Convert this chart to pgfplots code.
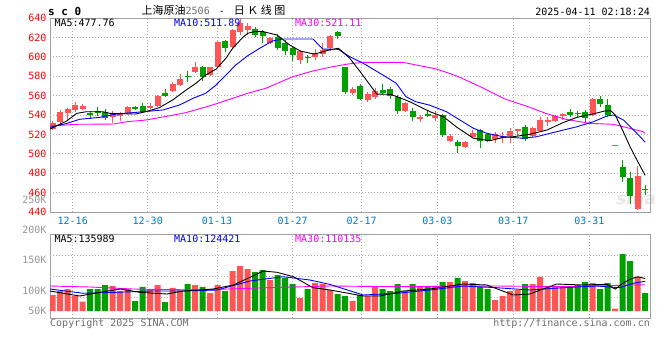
\documentclass[border=0pt]{standalone}
\usepackage{pgfplots}
\pgfplotsset{compat=1.18}
\usepackage{pgfplotstable}
\usepackage{fontspec}
\setmainfont{DejaVu Sans}
\setsansfont{DejaVu Sans}
\setmonofont{DejaVu Sans Mono}
\newfontfamily\cjk{Noto Sans CJK SC}
\definecolor{cred}{RGB}{255,85,85}
\definecolor{cgreen}{RGB}{0,160,0}
\definecolor{cblue}{RGB}{0,0,255}
\definecolor{cmag}{RGB}{255,0,255}
\definecolor{cdate}{RGB}{0,120,200}
\definecolor{cframe}{RGB}{160,160,160}
\definecolor{cgrid}{RGB}{175,175,175}
\definecolor{clab}{RGB}{150,150,150}
\definecolor{ctxt}{RGB}{110,110,110}

\pgfplotstableread{
i o h l c v
0 526 534 525 532 67000
1 533 545 530 543 83800
2 542 547 535 546 92200
3 545 553 543 550 62900
4 546 551 545 549 39000
8 538 544 532 542 104800
9 538.5 543 534 541 83800
10 542 549.5 541 548 92200
13 548 552 546 549 92200
14 549.5 561 548.5 559.5 108900
16 565 574.5 564 572 96400
17 571 582 570 577 86700
19 584 595 583 590 108900
21 581 590 580 589 75400
22 590 616 588 615 108900
24 610.5 629 609 627.5 167600
25 626 639.5 623 634.5 188600
26 628 634.5 623 632 176000
29 614.5 620.5 613 619 129900
33 597 607 592.5 606 54500
35 599.5 608 597 604 117300
36 603 614 600 607.5 113100
37 609 622 606 621 88000
40 563 569 561 567 41900
42 555.5 564 553.5 562 62900
43 559 568 557 565 100600
47 544.5 553 543.5 552 83800
49 536 539.5 532.5 538 104800
51 536.5 544 534 539.5 104800
53 513 520 512 518 121500
55 507.5 513.5 506 512.5 125700
56 517.5 525 516 521 117300
59 515 522 511 520 46100
60 516.5 522 511 518 62900
61 518 527 511 523 83800
62 523.5 526 518 525.5 88000
64 518.5 528 517 527 113100
65 524 538 523 535 142500
66 532.5 537.5 528.5 534.5 104800
67 534 540.5 532.5 539 104800
68 539.5 542.5 535 541 104800
72 540 557.5 539 556 117300
75 509 509 509 509 9600
78 443 487.5 442 477 142500
}\uptab

\pgfplotstableread{
i o h l c v
5 542 544 536 540 92200
6 544 548 539 543 92200
7 543 546 535 537 108900
11 548.5 549 545 546 41900
12 549 552 543 543.5 100600
15 563 566.5 559 560 37700
18 580.5 585.5 574.5 579.5 113100
20 590 590.5 575.5 579 100600
23 616 617.5 605 609 83800
27 628.5 631 620 622.5 163400
28 626 628 614.5 621 171800
30 620 624 607 609 150800
31 614.5 617 602 605.5 138300
32 609 610.5 596 602 113100
34 600 602 594 599 92200
38 626 627 618 621 71200
39 589 590 562 564 62900
41 570 571.5 555.5 556.5 67000
44 566 571.5 561 563 92200
45 567 568.5 557 560 83800
46 559 561 541.5 544 113100
48 544 547 534 538 113100
50 541 545.5 537.5 539 104800
52 540 541 517 519.5 121500
54 512.5 514 501 508.5 138300
57 524.5 526 506.5 513 100600
58 520 521 512.5 513.5 92200
63 528 530 513.5 515 113100
69 543.5 546 538 539.5 100600
70 542 544.5 537.5 541.5 108900
71 543.5 545 533 537 121500
73 556 559.5 548.5 551 92200
74 550.5 556 538 540 117300
76 486 494 471 476.5 238800
77 475.5 481 448 456 209500
79 464 468 458 463 75400
}\downtab

\pgfplotsset{
  sinaaxis/.style={
    scale only axis, width=600pt,
    xmin=-0.36, xmax=79.64,
    axis line style={draw=cframe, line width=1pt},
    major tick length=0pt,
    xtick={2.67,12.67,21.91,32.0,41.2,51.28,61.41,71.55},
    xmajorgrids,
    grid style={draw=cgrid, line width=0.8pt, dash pattern=on 1pt off 2pt},
    tick label style={font=\ttfamily\fontsize{10}{12}\selectfont},
  },
  wick/.style={draw=none, mark=none, forget plot,
    error bars/.cd, y dir=both, y explicit, error mark=none,
    error bar style={draw=#1, line width=1pt}},
  body/.style={draw=none, mark=none, forget plot,
    error bars/.cd, y dir=both, y explicit, error mark=none,
    error bar style={draw=#1, line width=6pt}},
}

\begin{document}
\begin{tikzpicture}
\useasboundingbox (0pt,0pt) rectangle (660pt,360pt);
\node[font=\sffamily\bfseries\itshape\fontsize{17}{17}\selectfont, text=black!9] at (636pt,162pt) {sina};

% header
\node[anchor=west, inner sep=0pt, font=\ttfamily\bfseries\fontsize{11}{11}\selectfont] at (48pt,348.5pt) {s c 0};
\node[anchor=west, inner sep=0pt] at (141.5pt,350pt) {\cjk\fontsize{11}{11}\selectfont 上海原油{\ttfamily\fontsize{10}{10}\selectfont\color{ctxt}2506}{\ttfamily\fontsize{10}{10}\selectfont~\hspace{3pt}-\hspace{3pt}~}日\hspace{2.5pt}Ｋ\hspace{2.5pt}线\hspace{2.5pt}图};
\node[anchor=east, inner sep=0pt, font=\ttfamily\fontsize{10}{10}\selectfont] at (650pt,348.3pt) {2025-04-11 02:18:24};

% price pane
\begin{axis}[sinaaxis, at={(50pt,148pt)}, anchor=south west, height=194pt,
  ymin=440, ymax=640,
  ytick={440,460,480,500,520,540,560,580,600,620,640},
  yticklabels={440,460,480,500,520,540,560,580,600,620,640},
  ymajorgrids,
  yticklabel style={text=red},
  xticklabels={12-16,12-30,01-13,01-27,02-17,03-03,03-17,03-31},
  xticklabel style={text=cdate, yshift=-2pt},
]
\addplot[wick=cred] table[x=i, y expr={(\thisrow{h}+\thisrow{l})/2}, y error expr={(\thisrow{h}-\thisrow{l})/2}] {\uptab};
\addplot[wick=cgreen] table[x=i, y expr={(\thisrow{h}+\thisrow{l})/2}, y error expr={(\thisrow{h}-\thisrow{l})/2}] {\downtab};
\addplot[body=cred] table[x=i, y expr={(\thisrow{o}+\thisrow{c})/2}, y error expr={max(abs(\thisrow{c}-\thisrow{o})/2,0.5)}] {\uptab};
\addplot[body=cgreen] table[x=i, y expr={(\thisrow{o}+\thisrow{c})/2}, y error expr={max(abs(\thisrow{c}-\thisrow{o})/2,0.5)}] {\downtab};
% MA30
\addplot[cmag, line width=0.9pt, mark=none] coordinates {
(-0.36,528.7) (3.2,530.4) (8.1,530.7) (9.9,533.1) (12.4,534.8) (15.1,538.5) (17.8,542.5) (21.3,550.3) (24,557.2) (26,562.4) (28.4,567.5) (32,579.5) (34.7,585.4) (37.3,589.8) (39.4,592.6) (41.4,594.3) (46.7,594.3) (51.2,587.4) (53.9,580.2) (57,569.2) (60.3,556.5) (63.6,548) (65.8,541.5) (68.4,535.6) (71.6,531.4) (74.7,530.4) (76.4,527.3) (78.7,522.8) (79,521.11)};
% MA10
\addplot[cblue, line width=0.9pt, mark=none] coordinates {
(-0.36,527.3) (1.9,531.4) (3.6,535.6) (6.3,537.6) (8.5,541) (12.1,543.4) (14.7,545.2) (16.9,550.3) (18.7,557.2) (20.4,562.4) (21.8,571) (23.1,581.2) (24.4,591.5) (26,601.1) (27.6,608.8) (29.3,616.3) (30.7,618.4) (34.7,618.4) (36,608) (38.1,607.7) (39.6,600.1) (41.4,593.3) (44.4,579.5) (45.8,572.7) (47.1,558.9) (48.4,553.7) (50.2,550.3) (52.5,543.4) (54.3,534.8) (56.1,526.3) (57.9,521.1) (60.1,517.6) (62.7,516) (64.5,517.6) (67.2,522.8) (69.9,527.9) (72.1,533.1) (73.9,539) (74.8,540) (76.1,534.8) (77.9,521.1) (79,511.89)};
% MA5
\addplot[black, line width=0.9pt, mark=none] coordinates {
(-0.36,525.6) (1.9,534) (3.2,541.7) (4.5,543.4) (6.7,543.4) (7.6,541.7) (11,541) (12.4,543.4) (14.2,547.5) (16,555.5) (17.8,565.8) (19.1,572.7) (20.4,581.2) (21.8,587.4) (23.1,598.5) (24,608.8) (25.3,619.7) (26,624.2) (26.8,625.9) (28.1,625.9) (29.9,622.5) (31.6,612.2) (33,606) (34.8,602.9) (35.6,604.2) (37,607.3) (38.1,608.8) (39.6,598.5) (41,584.6) (42.3,571) (43.2,561.6) (45,561.3) (45.9,558.9) (47.6,553.7) (50.3,543.4) (52.1,538.2) (53.9,527.3) (56.1,516) (58.3,513.5) (60.1,517) (61.4,517.6) (63.6,520.1) (65.9,524.5) (68,532) (69.9,537.6) (72,541) (73.6,544.1) (74.4,544.5) (75,540) (76,524) (77,507) (78,492) (79,477.76)};
\end{axis}

\node[anchor=west, inner sep=0pt, font=\ttfamily\fontsize{10}{10}\selectfont] at (54.3pt,336.7pt) {MA5:477.76};
\node[anchor=west, inner sep=0pt, font=\ttfamily\fontsize{10}{10}\selectfont, text=cblue] at (174pt,336.7pt) {MA10:511.89};
\node[anchor=west, inner sep=0pt, font=\ttfamily\fontsize{10}{10}\selectfont, text=cmag] at (295pt,336.7pt) {MA30:521.11};

% volume pane
\begin{axis}[sinaaxis, at={(50pt,42pt)}, anchor=south west, height=84pt,
  ymin=-29330, ymax=322630,
  scaled y ticks=false,
  ytick={0,83800,213700},
  yticklabels={50K,100K,150K},
  yticklabel style={text=clab},
  extra y ticks={58700,146700,234600},
  extra y tick labels={},
  extra y tick style={grid=major},
  xticklabels={},
]
\addplot[ybar, bar width=6pt, bar shift=0pt, fill=cred, draw=none] table[x=i, y=v] {\uptab};
\addplot[ybar, bar width=6pt, bar shift=0pt, fill=cgreen, draw=none] table[x=i, y=v] {\downtab};
\addplot[cmag, line width=0.9pt, mark=none] coordinates {
(-0.36,104750) (5,100560) (10.7,92180) (19.6,87990) (28.5,97630) (37,104750) (45.9,101820) (59.2,104750) (68.1,101820) (79,110135)};
\addplot[cblue, line width=0.9pt, mark=none] coordinates {
(-0.36,92200) (4.1,74160) (8.5,78350) (13,83800) (17.4,83800) (21.9,87990) (26.3,125700) (30.7,143720) (34.3,129890) (37,111000) (41.4,67040) (45.9,74160) (50.3,87990) (54.7,104750) (59.2,97630) (63.6,87990) (68.1,97630) (72.5,104750) (75.6,97630) (77.4,116060) (79,124421)};
\addplot[black, line width=0.9pt, mark=none] coordinates {
(-0.36,83800) (3.6,62850) (6.3,78350) (9,92200) (11.6,78350) (15.2,71230) (17.4,83800) (21.4,92200) (24.1,108940) (28.1,167600) (29.9,162150) (32.1,143720) (34.7,97630) (37,88000) (41.4,62850) (43.6,62850) (46.7,83800) (50.3,92200) (54.7,113130) (57.9,108940) (61.4,67040) (63.6,71230) (67.2,113130) (70.7,108940) (73.9,111870) (75,91600) (76,115900) (77,133500) (78,143500) (79,135989)};
\end{axis}

\node[anchor=east, inner sep=0pt, font=\ttfamily\fontsize{10}{10}\selectfont, text=clab] at (46.7pt,130pt) {200K};
\node[anchor=east, inner sep=0pt, font=\ttfamily\fontsize{10}{10}\selectfont, text=clab] at (46.7pt,160pt) {250K};
\node[anchor=west, inner sep=0pt, font=\ttfamily\fontsize{10}{10}\selectfont] at (54.3pt,121pt) {MA5:135989};
\node[anchor=west, inner sep=0pt, font=\ttfamily\fontsize{10}{10}\selectfont, text=cblue] at (174pt,121pt) {MA10:124421};
\node[anchor=west, inner sep=0pt, font=\ttfamily\fontsize{10}{10}\selectfont, text=cmag] at (295pt,121pt) {MA30:110135};
\node[anchor=west, inner sep=0pt, font=\ttfamily\fontsize{10}{10}\selectfont, text=ctxt] at (50pt,36.7pt) {Copyright 2025 SINA.COM};
\node[anchor=east, inner sep=0pt, font=\ttfamily\fontsize{10}{10}\selectfont, text=ctxt] at (650pt,36pt) {http://finance.sina.com.cn};
\end{tikzpicture}
\end{document}
